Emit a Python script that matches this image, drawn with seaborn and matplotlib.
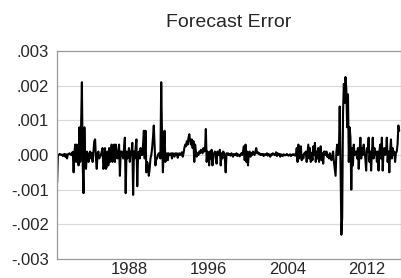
import matplotlib
matplotlib.use("Agg")
import matplotlib.pyplot as plt
import seaborn as sns
import numpy as np
import pandas as pd
from matplotlib.ticker import MultipleLocator, FuncFormatter

# monthly forecast error, in units of 1e-4, starting 1980M10
err_1980_1983 = [
    -8, 0, 0, 0.3, 0.2, 0, 0.1, -0.3, 0.2, 0.3, -0.5, 0.2, -1, 0.2, 0.3, 0.5, 0.2, 0, 0.6, 0.9,
    -5, 1, 3, -2, 3, -1, -3, 8, -2, 8, 21, -3, -11,
]
err_1983_1987 = [
    8, -2, -4, 1, 0.5, -2, 0, 1, -1, 0.5, -2, 1,
    4, 4.5, -1, -4, 0.5, 1, -1, -0.5, 0, 1, 2, -4,
    -3, 2, -4, -3.5, 1, -3, 2, -2, 0, 3, -2, 0,
    3, -2, 3, 0, -1, 1, 3, -6, 1, 1, 0, -1, 2, 5,
]
err_1987_1991 = [
    -11, 1, -1, 0.5, 2, -2, 1, 0, 3.5, -11.5, 1, -1,
    2, 4.5, -9, 0, 1, -1, 2, 0, 0, 3, 7, -1,
    7, -5, -2, -3, -6, -4, -1, 0, 2, 5, 8.5, 3,
    -3, -1, -1, 0, 0.5, 0, -1, 21, 5, -5, 1, 7,
]
err_1991_1997 = [
    -2, -1, 0.5, -1.5, 0.5, 0, 0.2, 0.5, -1, 0.5, 0.3, -0.5,
    0.5, 0, 0.5, -0.8, 0.3, 0.5, 0, 0.3, 0.8, -0.5, 0.5, 2,
    3, 2.5, 4, 3, 5, 6, 4, 3, 4.5, 2, 4, -2,
    3, 1, -0.5, 0.5, 0, 1, 0.5, 1.5, 1, 0.5, 2, 1,
    1.5, 7.5, -2, 1, 0.5, -3, 1, -1, 1.5, -3, 0, 0.5,
    1, -1, -2.5, 1, 0, 0.5, 1.5, -3, 0.5, -1, 1, 0.5, -1,
]
err_1997_2008 = [
    -5, 0.5, 0, 0.5, 0, 0.3, -0.2, 0.5, 0, -0.5, 0.3, 0,
    0, 0.5, -0.3, 0.2, 0, -0.4, 0.2, 0.5, 0, 1, 2.5, -1.5,
    3, -2, 1, -3, 0.5, 1, -0.5, 0.5, 0, 1, 0.5, 0,
    1, 2, 0.5, 0.8, 0.3, 0.5, 0, 0.3, 0, 0.3, -0.3, 0.2,
    0.2, 0, 0.5, -0.2, 0.3, 0, -0.5, 0.2, 0, 0.5, 0.3, 0,
    0, 0.8, -0.3, 0.5, 0, 0.3, -0.5, 0.2, 0, -0.3, 0.2, 0.1,
    -0.1, 0, 0.3, 0, -0.2, 0, 0.2, -0.3, 0, 0.2, 0, 0.2,
    -0.2, 0, 2, -2, 3, -1, 0.5, 2.5, -1.5, 0, -1, 0.5,
    0.5, 1, -2, 0.5, 3, -1, 2, -2, 0.5, -1.5, 2.5, 0,
    3.5, -2, 1, -1, 2, -2, 0, 2.5, -1.5, 0.5, -2.5, 1,
    1, 0, 1, -0.5, 0, -1, 0.5, -1, -1.5, 0, 1, -2, -4,
]
err_2008_2010 = [
    -6, 1, 3, 0, 0.5, 14, -3, -23, -18, 12, 20.5, 15, 22.5, 19, 8, 17.5,
]
err_2010_2015 = [
    -2, 8, 5, -10, 2, -3, 3, 0, 0.5, 1, -1, 2,
    -4, 1, 5, -1, 2, 0, 3, 1, -1, -4.5, 2, 1,
    5, -2, 1, -4.5, 1, 5, -1, 2, 0, 1, -2, 1,
    -4.5, 1, 3, -1, 5, -4.5, 1, 2, 0, 1, 5, -2,
    1, -5, 1, 4.5, -1, 2, 0, 1, -2, 0.5, 1, 3, 8.5, 7,
]
start_year = 1980 + 9 / 12
year_ticks = [1988, 1996, 2004, 2012]
y_ticks = [-0.003, -0.002, -0.001, 0.0, 0.001, 0.002, 0.003]

err = np.array(err_1980_1983 + err_1983_1987 + err_1987_1991 + err_1991_1997
               + err_1997_2008 + err_2008_2010 + err_2010_2015) * 1e-4
df = pd.DataFrame({"t": start_year + np.arange(len(err)) / 12.0, "err": err})

sns.set_style("white")
plt.rcParams['font.family'] = ['Liberation Sans', 'DejaVu Sans']

fig = plt.figure(figsize=(4.01, 2.78), dpi=100)
ax = fig.add_axes([57 / 401, 19 / 278, 344 / 401, 208 / 278])

for v in y_ticks[1:-1]:
    ax.axhline(v, color='#d9d9d9', lw=0.8, zorder=0)

sns.lineplot(data=df, x="t", y="err", color='black', lw=1.5, ax=ax)

ax.set_xlim(1980.74, 2015.43)
ax.set_ylim(-0.003, 0.003)
ax.set_xticks(year_ticks)
ax.xaxis.set_minor_locator(MultipleLocator(1))
ax.set_yticks(y_ticks)
ax.yaxis.set_major_formatter(FuncFormatter(lambda v, p: f"{v:.3f}".replace("0.", ".")))
ax.set_xlabel("")
ax.set_ylabel("")

for s in ax.spines.values():
    s.set_color('#999999')
    s.set_linewidth(0.9)

ax.tick_params(axis='y', which='major', direction='out', length=4, color='#999999',
               labelsize=12, pad=2)
ax.tick_params(axis='x', which='both', direction='inout', length=4, color='#999999',
               labelsize=12, pad=0.5)

ax.set_title("Forecast Error", fontsize=14, pad=17)

plt.savefig("out.png", dpi=100)
